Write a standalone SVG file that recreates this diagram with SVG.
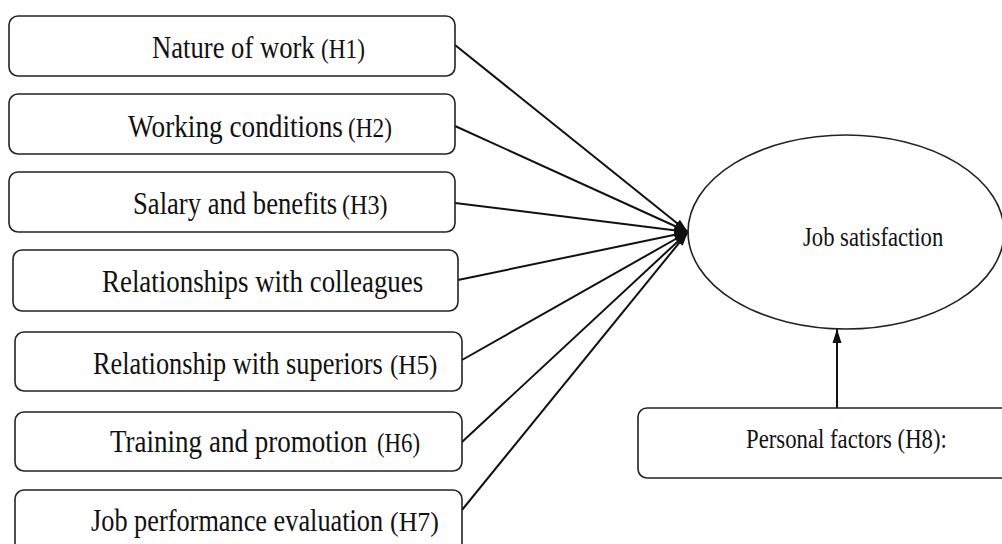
<svg xmlns="http://www.w3.org/2000/svg" width="1002" height="544" viewBox="0 0 1002 544">
<style>
.box{fill:#fff;stroke:#222;stroke-width:1.6}
.t{font-family:"Liberation Serif","Times New Roman",serif;fill:#111;font-size:32px}
.s{font-family:"Liberation Serif","Times New Roman",serif;fill:#111;font-size:27px}
.c{stroke:#111;stroke-width:2;fill:none}
</style>
<defs>
<marker id="ah" markerUnits="userSpaceOnUse" markerWidth="16" markerHeight="12" refX="14" refY="6" orient="auto">
<path d="M0,1.5 L14,6 L0,10.5 Z" fill="#111"/>
</marker>
</defs>
<rect width="1002" height="544" fill="#fff"/>
<g id="connectors">
<line class="c" x1="455" y1="45" x2="688" y2="232" marker-end="url(#ah)"/>
<line class="c" x1="455" y1="126" x2="688" y2="232" marker-end="url(#ah)"/>
<line class="c" x1="455" y1="203" x2="688" y2="232" marker-end="url(#ah)"/>
<line class="c" x1="458" y1="280" x2="688" y2="232" marker-end="url(#ah)"/>
<line class="c" x1="462" y1="360" x2="688" y2="232" marker-end="url(#ah)"/>
<line class="c" x1="462" y1="442" x2="688" y2="232" marker-end="url(#ah)"/>
<line class="c" x1="462" y1="510" x2="688" y2="232" marker-end="url(#ah)"/>
<line class="c" x1="837" y1="408" x2="837" y2="329" marker-end="url(#ah)"/>
</g>
<g id="n1">
<rect class="box" x="9" y="16" width="446" height="60" rx="9"/>
<text class="t" transform="translate(152,58) scale(0.83,1)" textLength="196" lengthAdjust="spacingAndGlyphs">Nature of work</text>
<text class="s" transform="translate(321,58) scale(0.83,1)" textLength="53" lengthAdjust="spacingAndGlyphs">(H1)</text>
</g>
<g id="n2">
<rect class="box" x="9" y="94" width="446" height="60" rx="9"/>
<text class="t" transform="translate(128,137) scale(0.83,1)" textLength="259" lengthAdjust="spacingAndGlyphs">Working conditions</text>
<text class="s" transform="translate(348,137) scale(0.83,1)" textLength="53" lengthAdjust="spacingAndGlyphs">(H2)</text>
</g>
<g id="n3">
<rect class="box" x="9" y="172" width="446" height="60" rx="9"/>
<text class="t" transform="translate(133,214) scale(0.83,1)" textLength="246" lengthAdjust="spacingAndGlyphs">Salary and benefits</text>
<text class="s" transform="translate(342,214) scale(0.83,1)" textLength="55" lengthAdjust="spacingAndGlyphs">(H3)</text>
</g>
<g id="n4">
<rect class="box" x="13" y="250" width="445" height="61" rx="9"/>
<text class="t" transform="translate(102,292) scale(0.83,1)" textLength="387" lengthAdjust="spacingAndGlyphs">Relationships with colleagues</text>
</g>
<g id="n5">
<rect class="box" x="15" y="332" width="447" height="59" rx="9"/>
<text class="t" transform="translate(93,374) scale(0.83,1)" textLength="349" lengthAdjust="spacingAndGlyphs">Relationship with superiors</text>
<text class="s" transform="translate(390,374) scale(0.83,1)" textLength="57" lengthAdjust="spacingAndGlyphs">(H5)</text>
</g>
<g id="n6">
<rect class="box" x="15" y="412" width="447" height="59" rx="9"/>
<text class="t" transform="translate(110,452) scale(0.83,1)" textLength="310" lengthAdjust="spacingAndGlyphs">Training and promotion</text>
<text class="s" transform="translate(377,452) scale(0.83,1)" textLength="52" lengthAdjust="spacingAndGlyphs">(H6)</text>
</g>
<g id="n7">
<rect class="box" x="15" y="490" width="447" height="64" rx="9"/>
<text class="t" transform="translate(91,531) scale(0.83,1)" textLength="352" lengthAdjust="spacingAndGlyphs">Job performance evaluation</text>
<text class="s" transform="translate(390,531) scale(0.83,1)" textLength="59" lengthAdjust="spacingAndGlyphs">(H7)</text>
</g>
<g id="job">
<ellipse cx="846" cy="232" rx="158" ry="97" fill="none" stroke="#222" stroke-width="1.6"/>
<text class="s" transform="translate(803,246) scale(0.83,1)" textLength="169" lengthAdjust="spacingAndGlyphs">Job satisfaction</text>
</g>
<g id="personal">
<rect class="box" x="638" y="408" width="380" height="70" rx="9"/>
<text class="s" transform="translate(746,448) scale(0.83,1)" textLength="242" lengthAdjust="spacingAndGlyphs">Personal factors (H8):</text>
</g>
</svg>
